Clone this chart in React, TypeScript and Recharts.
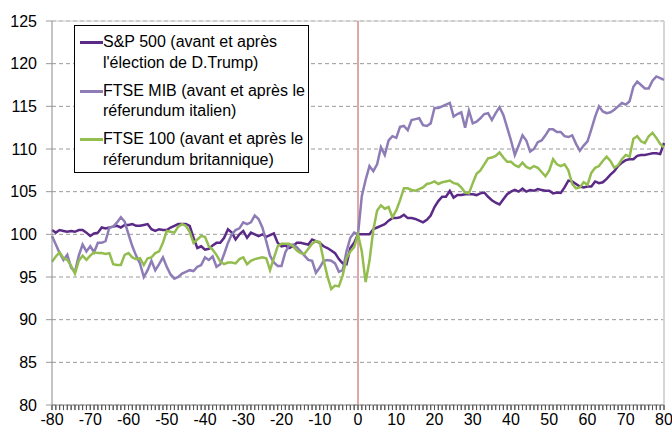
import React from "react";
import {
  LineChart,
  Line,
  XAxis,
  YAxis,
  CartesianGrid,
  ReferenceLine,
} from "recharts";

// days relative to the event (-80 .. 80)
const days: number[] = Array.from({ length: 161 }, (_, i) => i - 80);

// S&P 500 around the D.Trump election
const sp500: number[] = [
  100.5, 100.2, 100.5, 100.4, 100.3, 100.4, 100.3, 100.5, 100.5, 100.2,
  99.8, 100.1, 100.2, 100.8, 100.7, 100.8, 100.9, 101.0, 100.8, 101.1,
  101.1, 101.2, 101.0, 101.0, 101.1, 101.2, 100.6, 100.4, 100.6, 100.5,
  100.5, 100.8, 101.0, 101.2, 101.2, 101.2, 101.0, 99.6, 98.4, 98.6,
  98.2, 98.3, 98.7, 99.0, 99.0, 99.6, 100.6, 100.2, 99.4, 100.0,
  100.4, 99.6, 100.2, 100.0, 99.8, 100.0, 99.7, 99.9, 100.1, 99.0,
  98.6, 98.7, 98.4, 98.6, 99.0, 99.0, 98.9, 98.8, 99.4, 99.2,
  99.0, 98.6, 98.4, 98.1, 97.8, 97.1, 96.6, 96.5, 98.4, 99.0,
  100.0, 100.0, 100.0, 100.0, 100.6, 100.8, 101.0, 101.2, 101.6, 101.9,
  101.9, 102.0, 102.3, 101.9, 101.9, 101.8, 101.6, 101.4, 101.7, 102.2,
  103.2, 103.9, 104.4, 104.4, 105.1, 104.3, 104.6, 104.6, 104.7, 104.7,
  104.7, 104.6, 104.8, 104.9, 104.4, 104.0, 103.7, 103.5, 104.1, 104.7,
  105.0, 105.2, 105.0, 105.35, 105.0, 105.2, 105.1, 105.3, 105.2, 105.1,
  105.1, 104.8, 104.9, 104.85, 105.5, 106.3, 106.2, 105.9, 105.6, 105.5,
  105.6, 105.6, 106.2, 106.0, 106.1, 106.5, 107.0, 107.4, 108.0, 108.4,
  108.7, 108.8, 108.8, 109.2, 109.3, 109.3, 109.4, 109.5, 109.5, 109.4,
  110.7,
];

// FTSE MIB around the Italian referendum
const ftseMib: number[] = [
  99.8, 98.8, 97.8, 97.0, 97.6, 96.1, 95.6, 97.5, 98.8, 98.0,
  98.6, 97.9, 99.0, 99.0, 99.2, 100.8, 100.9, 101.4, 102.0, 101.5,
  100.0, 98.6, 97.5, 96.6, 95.0, 95.8, 96.9, 95.8, 96.5, 97.3,
  96.2, 95.3, 94.8, 95.0, 95.4, 95.6, 95.8, 95.7, 96.2, 96.4,
  97.3, 97.0, 97.4, 96.2, 96.5, 97.7, 99.0, 100.0, 100.5, 100.7,
  101.4, 101.2, 101.4, 102.2, 101.8, 100.8, 99.2, 97.5, 96.7, 96.3,
  96.3, 97.9, 98.7, 98.8, 98.5, 98.0, 97.5, 97.0, 96.9, 95.5,
  96.1, 96.9, 97.0, 96.9, 96.6, 95.6, 95.8, 98.0, 99.6, 100.2,
  100.0, 104.5, 106.4, 108.0, 107.4, 108.2, 110.2, 109.3, 111.0, 111.5,
  111.3, 112.6, 112.7, 112.2, 113.4, 113.5, 113.6, 112.8, 112.7, 113.0,
  114.8, 114.8, 115.0, 115.2, 115.4, 113.8, 114.1, 114.3, 112.5, 114.5,
  113.0, 113.2, 113.6, 114.1, 114.2, 113.4, 114.2, 114.9, 114.0, 112.5,
  111.0, 109.3, 110.4, 111.6, 111.0, 109.7, 110.0, 110.8, 111.0, 111.6,
  112.3, 112.3, 112.0, 112.0, 111.5, 111.4, 111.6, 110.6, 109.8, 110.4,
  110.9, 112.3, 113.8, 115.0, 114.4, 114.2, 114.3, 114.6, 115.0, 115.4,
  115.2, 115.6, 117.3, 117.9, 117.5, 117.1, 117.1, 118.0, 118.5, 118.3,
  118.1,
];

// FTSE 100 around the British referendum
const ftse100: number[] = [
  96.8, 97.4, 97.9, 97.2, 97.0, 96.3, 95.4, 96.9, 97.5, 97.0,
  97.5, 97.9, 97.8, 97.8, 97.7, 97.8, 96.5, 96.4, 96.4, 97.6,
  97.8, 97.3, 97.1, 97.2, 96.4, 97.2, 97.3, 97.8, 98.0, 99.0,
  100.4, 100.3, 100.2, 100.9, 101.2, 101.0, 100.3, 99.0, 99.4, 99.8,
  99.7, 98.6, 98.2, 97.6, 96.8, 96.5, 96.7, 96.7, 96.6, 97.1,
  97.3, 96.5, 96.9, 97.1, 97.2, 97.3, 97.2, 95.8, 97.2, 98.6,
  98.9, 98.9, 98.9, 98.6, 98.1, 97.8, 97.7, 98.3, 98.9, 99.2,
  99.1, 97.0, 95.1, 93.6, 94.0, 93.9, 95.2, 97.2, 98.0, 98.5,
  100.0, 98.0, 94.4, 96.9, 100.5, 102.8, 103.4, 103.0, 103.2, 102.0,
  102.8, 104.0, 105.4, 105.4, 105.2, 105.1, 105.3, 105.5, 105.9, 106.0,
  106.2, 105.9, 106.1, 106.2, 106.3, 106.0, 105.9, 105.5, 104.9, 104.8,
  106.0, 107.1, 107.5, 108.2, 108.9, 109.0, 109.2, 109.6, 109.0, 108.5,
  108.5, 108.1, 107.9, 108.4, 107.9, 107.7, 108.0, 107.8, 107.3, 106.8,
  107.5, 108.8, 108.2, 108.0, 108.2, 107.5, 105.9, 105.4, 105.5, 106.1,
  105.8, 107.2, 107.8, 108.0, 108.6, 109.1, 108.6, 107.8, 108.1, 108.8,
  109.3, 109.1, 111.2, 111.5, 110.9, 110.7, 111.5, 111.9, 111.3, 110.6,
  110.2,
];

const yTicks = [80, 85, 90, 95, 100, 105, 110, 115, 120, 125];

const seriesInfo = [
  { key: "sp", color: "#5b2a86", lines: ["S&P 500 (avant et après", "l'élection de D.Trump)"] },
  { key: "mib", color: "#8e7cb6", lines: ["FTSE MIB (avant et après le", "réferundum italien)"] },
  { key: "ftse", color: "#93bd4e", lines: ["FTSE 100 (avant et après le", "réferundum britannique)"] },
];

const data = days.map((d, i) => ({
  day: d,
  sp: sp500[i],
  mib: ftseMib[i],
  ftse: ftse100[i],
}));

const FONT = "'Liberation Sans', Arial, sans-serif";

// labels only on multiples of 10
const XLabel = (props: any) => {
  const { x, y, payload } = props;
  if (payload.value % 10 !== 0) return <g />;
  return (
    <text x={x} y={y} dy="0.71em" textAnchor="middle" fill="#000" fontSize={16} fontFamily={FONT}>
      {payload.value}
    </text>
  );
};

// legend box drawn over the plot, as in the original
const LegendBox = () => (
  <div
    style={{
      position: "absolute",
      left: 74,
      top: 25,
      width: 233,
      height: 146,
      border: "1px solid #000",
      background: "#fff",
      fontFamily: FONT,
      fontSize: 16,
      color: "#000",
    }}
  >
    {seriesInfo.map((s, i) => (
      <div key={s.key} style={{ position: "absolute", left: 0, top: 6 + i * 48.5, lineHeight: "20.5px" }}>
        <div
          style={{
            position: "absolute",
            left: 5,
            top: 9,
            width: 23,
            height: 3,
            background: s.color,
          }}
        />
        <div style={{ position: "absolute", left: 28, top: 0, whiteSpace: "nowrap" }}>
          {s.lines[0]}
          <br />
          {s.lines[1]}
        </div>
      </div>
    ))}
  </div>
);

export default function App() {
  return (
    <div style={{ position: "absolute", left: 0, top: 0, width: 672, height: 434, background: "#fff" }}>
      <LineChart
        width={672}
        height={434}
        data={data}
        margin={{ top: 21, right: 8, bottom: 0, left: 0 }}
      >
        <CartesianGrid vertical={false} stroke="#9a9a9a" strokeDasharray="4 3" />
        <XAxis
          dataKey="day"
          type="number"
          domain={[-80, 80]}
          ticks={days}
          interval={0}
          height={29}
          tick={<XLabel />}
          tickSize={5}
          tickMargin={4}
          tickLine={{ stroke: "#555", strokeWidth: 1 }}
          axisLine={{ stroke: "#8a8a8a" }}
        />
        <YAxis
          domain={[80, 125]}
          ticks={yTicks}
          interval={0}
          width={52}
          tickSize={6}
          tickMargin={9}
          axisLine={{ stroke: "#8a8a8a" }}
          tickLine={{ stroke: "#9a9a9a" }}
          tick={{ fill: "#000", fontSize: 16, fontFamily: FONT }}
        />
        <ReferenceLine y={125} stroke="#cfcfcf" />
        <ReferenceLine x={80} stroke="#d6d6d6" strokeWidth={2} />
        {/* minor tick marks below the axis, one per day */}
        {days.map((d) => (
          <ReferenceLine
            key={"t" + d}
            segment={[
              { x: d, y: 80 },
              { x: d, y: 79.4 },
            ]}
            ifOverflow="visible"
            stroke="#555"
            strokeWidth={1}
          />
        ))}
        <ReferenceLine x={0} stroke="#c0504d" strokeWidth={1} />
        {seriesInfo.map((s) => (
          <Line
            key={s.key}
            dataKey={s.key}
            stroke={s.color}
            strokeWidth={2.5}
            dot={false}
            activeDot={false}
            type="linear"
            isAnimationActive={false}
          />
        ))}
      </LineChart>
      <LegendBox />
    </div>
  );
}
